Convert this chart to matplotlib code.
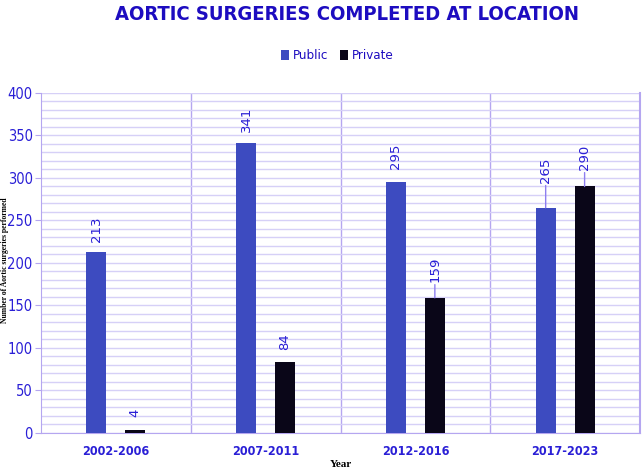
import matplotlib.pyplot as plt
import numpy as np

# data
periods = ['2002-2006', '2007-2011', '2012-2016', '2017-2023']
public = [213, 341, 295, 265]
private = [4, 84, 159, 290]

# label gaps above bars (points) and whether a leader line is drawn
public_gap = [7.5, 8, 9.5, 18]
private_gap = [9, 8, 11.5, 12]
public_lead = [False, False, False, True]
private_lead = [False, False, True, True]

blue_text = '#2a1fd6'
title_col = '#1d0cc0'
public_col = '#3d4bc0'
private_col = '#0a0618'
grid_col = '#d6d0f7'
sep_col = '#b5a6f0'

fig = plt.figure(figsize=(6.42, 4.73), dpi=100)
ax = fig.add_axes([0.0639, 0.0846, 0.933, 0.7188])

x = np.arange(len(periods))
w = 0.133
off = 0.13
ax.bar(x - off, public, w, color=public_col, label='Public', zorder=3)
ax.bar(x + off, private, w, color=private_col, label='Private', zorder=3)

def label_bars(xs, vals, gaps, leads):
    for xi, v, g, ld in zip(xs, vals, gaps, leads):
        arrow = dict(arrowstyle='-', color='#8d7ef0', lw=1, shrinkA=0, shrinkB=0) if ld else None
        ax.annotate(str(v), xy=(xi, v), xytext=(0, g), textcoords='offset points',
                    rotation=90, ha='center', va='bottom', fontsize=9.5,
                    color=blue_text, arrowprops=arrow, zorder=4)

label_bars(x - off, public, public_gap, public_lead)
label_bars(x + off, private, private_gap, private_lead)

ax.set_xlim(-0.5, len(periods) - 0.5)
ax.set_ylim(0, 400)
ax.set_yticks(np.arange(0, 401, 50))
ax.set_yticks(np.arange(0, 401, 10), minor=True)
ax.set_xticks(x)
ax.set_xticklabels(periods, fontsize=9, color=blue_text, fontweight='bold')
for t in ax.get_xticklabels() + ax.get_yticklabels():
    t.set_fontstretch('condensed')
ax.tick_params(axis='y', which='major', labelsize=10.5, colors=blue_text, length=4,
               color=sep_col, pad=2)
ax.tick_params(axis='y', which='minor', length=0)
ax.tick_params(axis='x', length=0, pad=9)
ax.grid(axis='y', which='both', color=grid_col, lw=1, zorder=0)
for xs in x[:-1] + 0.5:
    ax.axvline(xs, color=sep_col, lw=1, zorder=1)
for s in ['left', 'bottom', 'right']:
    ax.spines[s].set_color(sep_col)
ax.spines['right'].set_linewidth(1.5)
ax.spines['top'].set_visible(False)

ax.set_xlabel('Year', fontsize=8, fontweight='bold', family='Liberation Serif', labelpad=1)
fig.text(0.008, 0.45, 'Number of Aortic surgeries performed', rotation=90, ha='center',
         va='center', fontsize=5.5, fontweight='bold', family='Liberation Serif')

fig.text(0.54, 0.99, 'AORTIC SURGERIES COMPLETED AT LOCATION', ha='center', va='top',
         fontsize=14.5, fontweight='bold', color=title_col, fontstretch='condensed')
leg = fig.legend(loc='center', bbox_to_anchor=(0.525, 0.882), ncol=2, frameon=False,
                 fontsize=9.5, handlelength=0.6, handleheight=0.8, handletextpad=0.3,
                 columnspacing=0.9)
for t in leg.get_texts():
    t.set_color(title_col)
    t.set_fontstretch('condensed')

fig.savefig('out.png', dpi=100)
